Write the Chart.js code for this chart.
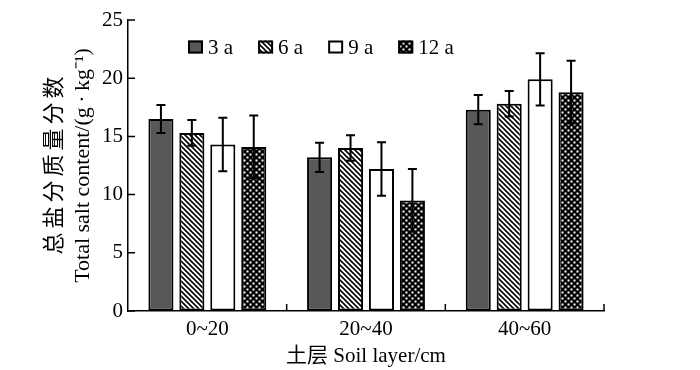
<!DOCTYPE html>
<html lang="zh">
<head>
  <meta charset="UTF-8">
  <title>Total salt content by soil layer</title>
  <script src="https://cdn.jsdelivr.net/npm/chart.js"></script>
  <style>
    body { margin: 0; background: #fff; }
    #wrap { width: 700px; height: 370px; position: relative; }
  </style>
</head>
<body>
  <div id="wrap"><canvas id="salt-chart"></canvas></div>

  <script>
    // data
    const layers = ['0~20', '20~40', '40~60'];
    const seriesNames = ['3 a', '6 a', '9 a', '12 a'];
    const mean3a = [16.5, 13.2, 17.3];
    const mean6a = [15.3, 14.0, 17.8];
    const mean9a = [14.3, 12.2, 19.9];
    const mean12a = [14.1, 9.5, 18.8];
    const err3a = [1.2, 1.25, 1.25];
    const err6a = [1.1, 1.1, 1.1];
    const err9a = [2.3, 2.3, 2.25];
    const err12a = [2.7, 2.7, 2.7];
    const yMax = 25;
    const yStep = 5;

    const serif = '"Liberation Serif", "Times New Roman", serif';
    const serifCjk = '"Liberation Serif", "Noto Sans CJK SC", serif';

    // fill patterns
    function makeTile(size, paint) {
      const c = document.createElement('canvas');
      c.width = size; c.height = size;
      paint(c.getContext('2d'), size);
      return c.getContext('2d').createPattern(c, 'repeat');
    }
    const hatch = makeTile(5, (g, s) => {
      g.fillStyle = '#fff'; g.fillRect(0, 0, s, s);
      g.strokeStyle = '#000'; g.lineWidth = 1.6;
      g.beginPath();
      g.moveTo(0, 0); g.lineTo(s, s);
      g.moveTo(-1, s - 1); g.lineTo(1, s + 1);
      g.moveTo(s - 1, -1); g.lineTo(s + 1, 1);
      g.stroke();
    });
    const checks = makeTile(6, (g, s) => {
      g.fillStyle = '#000'; g.fillRect(0, 0, s, s);
      g.fillStyle = '#fff';
      g.fillRect(0.5, 0.5, 2, 2);
      g.fillRect(3.5, 3.5, 2, 2);
    });

    const fills = ['#585858', hatch, '#ffffff', checks];
    const means = [mean3a, mean6a, mean9a, mean12a];
    const errs = [err3a, err6a, err9a, err12a];

    const datasets = seriesNames.map((name, i) => ({
      label: name,
      data: means[i],
      errors: errs[i],
      backgroundColor: fills[i],
      borderColor: '#000',
      borderWidth: 2,
      borderSkipped: false,
      categoryPercentage: 0.78,
      barPercentage: 0.81
    }));

    // error bars, drawn from the y scale
    const errorBars = {
      id: 'errorBars',
      afterDatasetsDraw(chart) {
        const ctx = chart.ctx;
        const y = chart.scales.y;
        ctx.save();
        ctx.strokeStyle = '#000';
        ctx.lineWidth = 2;
        chart.data.datasets.forEach((ds, i) => {
          chart.getDatasetMeta(i).data.forEach((bar, j) => {
            const top = y.getPixelForValue(ds.data[j] + ds.errors[j]);
            const bot = y.getPixelForValue(ds.data[j] - ds.errors[j]);
            ctx.beginPath();
            ctx.moveTo(bar.x, top); ctx.lineTo(bar.x, bot);
            ctx.moveTo(bar.x - 4.5, top); ctx.lineTo(bar.x + 4.5, top);
            ctx.moveTo(bar.x - 4.5, bot); ctx.lineTo(bar.x + 4.5, bot);
            ctx.stroke();
          });
        });
        ctx.restore();
      }
    };

    // inward ticks on both axes
    const innerTicks = {
      id: 'innerTicks',
      afterDraw(chart) {
        const ctx = chart.ctx;
        const {left, right, bottom} = chart.chartArea;
        const y = chart.scales.y;
        ctx.save();
        ctx.strokeStyle = '#000';
        ctx.lineWidth = 1.5;
        ctx.beginPath();
        for (let v = 0; v <= yMax; v += yStep) {
          const py = y.getPixelForValue(v);
          ctx.moveTo(left, py); ctx.lineTo(left + 7, py);
        }
        const step = (right - left) / layers.length;
        for (let i = 1; i <= layers.length; i++) {
          const px = left + i * step;
          ctx.moveTo(px, bottom); ctx.lineTo(px, bottom - 7);
        }
        ctx.stroke();
        ctx.restore();
      }
    };

    // legend inside the plot, one row
    const rowLegend = {
      id: 'rowLegend',
      afterDraw(chart) {
        const ctx = chart.ctx;
        let x = 188;
        const cy = 47;
        ctx.save();
        ctx.font = '21px ' + serif;
        ctx.textBaseline = 'middle';
        chart.data.datasets.forEach(ds => {
          ctx.fillStyle = ds.backgroundColor;
          ctx.fillRect(x, cy - 6.5, 15, 13);
          ctx.strokeStyle = '#000';
          ctx.lineWidth = 2;
          ctx.strokeRect(x + 1, cy - 5.5, 13, 11);
          ctx.fillStyle = '#000';
          ctx.fillText(ds.label, x + 20, cy + 1);
          x += 20 + ctx.measureText(ds.label).width + 25;
        });
        ctx.restore();
      }
    };

    // Chinese line of the y title
    const yTitleCn = {
      id: 'yTitleCn',
      afterDraw(chart) {
        const ctx = chart.ctx;
        const {top, bottom} = chart.chartArea;
        ctx.save();
        ctx.translate(53, (top + bottom) / 2);
        ctx.rotate(-Math.PI / 2);
        ctx.font = '22px "Noto Sans CJK SC"';
        ctx.letterSpacing = '4px';
        ctx.textAlign = 'center';
        ctx.textBaseline = 'middle';
        ctx.fillStyle = '#000';
        ctx.fillText('总盐分质量分数', 2, 0);
        ctx.restore();
      }
    };

    new Chart(document.getElementById('salt-chart'), {
      type: 'bar',
      data: { labels: layers, datasets: datasets },
      plugins: [errorBars, innerTicks, rowLegend, yTitleCn],
      options: {
        responsive: true,
        maintainAspectRatio: false,
        animation: false,
        layout: { padding: { top: 20, right: 96, left: 0, bottom: 0 } },
        plugins: {
          legend: { display: false },
          tooltip: { enabled: false }
        },
        scales: {
          x: {
            grid: { display: true, drawOnChartArea: false, drawTicks: false },
            border: { display: true, color: '#000', width: 1.5 },
            ticks: { color: '#000', font: { family: serif, size: 21 }, padding: 6 },
            title: {
              display: true,
              text: '土层 Soil layer/cm',
              color: '#000',
              font: { family: serifCjk, size: 21 },
              padding: { top: 0, bottom: 1 }
            },
            afterFit(scale) { scale.height = 59; }
          },
          y: {
            min: 0,
            max: yMax,
            grid: { display: true, drawOnChartArea: false, drawTicks: false },
            border: { display: true, color: '#000', width: 1.5 },
            ticks: { stepSize: yStep, color: '#000', font: { family: serif, size: 21 }, padding: 5 },
            title: {
              display: true,
              text: 'Total salt content/(g\u2009·\u2009kg⁻¹)',
              color: '#000',
              font: { family: serif, size: 22 },
              padding: { top: 70, bottom: 0 }
            },
            afterFit(scale) { scale.width = 128; }
          }
        }
      }
    });
  </script>
</body>
</html>
